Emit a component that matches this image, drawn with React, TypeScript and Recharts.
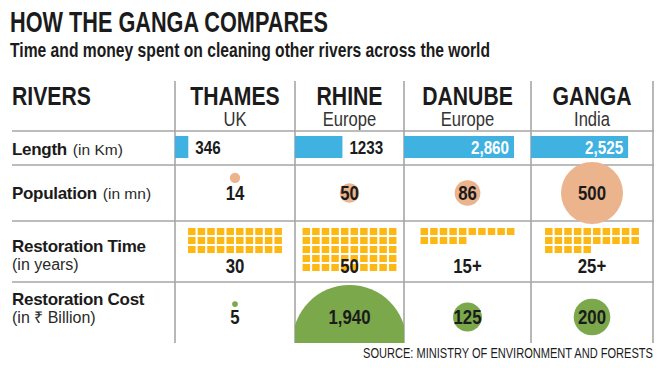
import { Fragment } from "react"
import { BarChart, Bar, ScatterChart, Scatter, XAxis, YAxis, ZAxis } from "recharts"

const rivers = ["THAMES", "RHINE", "DANUBE", "GANGA"]
const regions = ["UK", "Europe", "Europe", "India"]
const lengthKm = [346, 1233, 2860, 2525]
const lengthLabels = ["346", "1233", "2,860", "2,525"]
const populationMn = [14, 50, 86, 500]
const populationLabels = ["14", "50", "86", "500"]
const restorationYears = [30, 50, 15, 25]
const restorationLabels = ["30", "50", "15+", "25+"]
const restorationCostBn = [5, 1940, 125, 200]
const costLabels = ["5", "1,940", "125", "200"]

// layout
const colX = [175, 295, 404, 531, 653]
const rowLines = [131, 165, 221, 282]
const FONT = "'Liberation Sans', Arial, sans-serif"
const INK = "#1b1b1b"
const GRID = "#a6a6a6"
const BLUE = "#3fb2e2"
const PEACH = "#ebb48d"
const GREEN = "#7aa84b"
const AMBER = "#fdb813"

const cellW = (i: number) => colX[i + 1] - colX[i]
const colMid = (i: number) => (colX[i] + colX[i + 1]) / 2

// condensed text: regular sans squeezed horizontally
function NText({ x, y, size, bold = true, anchor = "start", fill = INK, squeeze = 0.8, central = false, children }: any) {
  return (
    <text
      transform={`translate(${x},${y}) scale(${squeeze},1)`}
      textAnchor={anchor}
      dominantBaseline={central ? "central" : undefined}
      fill={fill}
      fontFamily={FONT}
      fontWeight={bold ? 700 : 400}
      fontSize={size}
    >
      {children}
    </text>
  )
}

function LengthBar(props: any) {
  const { x, y, width, height, payload } = props
  const inside = width > 70
  return (
    <g>
      <rect x={x} y={y} width={width} height={height} fill={BLUE} />
      <NText
        x={inside ? x + width - 5 : x + width + 7}
        y={y + height / 2}
        anchor={inside ? "end" : "start"}
        central
        fill={inside ? "#fff" : INK}
        size={19}
      >
        {payload.label}
      </NText>
    </g>
  )
}

function LengthCell({ i }: { i: number }) {
  const data = [{ river: rivers[i], km: lengthKm[i], label: lengthLabels[i] }]
  return (
    <BarChart width={120} height={34} layout="vertical" data={data} margin={{ top: 0, right: 0, bottom: 2, left: 0 }}>
      <XAxis type="number" domain={[0, 3120]} hide />
      <YAxis type="category" dataKey="river" hide />
      <Bar dataKey="km" barSize={22} shape={LengthBar} isAnimationActive={false} />
    </BarChart>
  )
}

function makeBubble(color: string, rowTop: number, rowHalf: number) {
  return (props: any) => {
    const { cx, cy, width, payload } = props
    const r = width / 2
    let circleY = cy
    if (r < 6) circleY = cy - r - 10
    else if (r > rowHalf + 5) circleY = rowTop + 3 + r
    return (
      <g>
        <circle cx={cx} cy={circleY} r={r} fill={color} />
        <NText x={cx} y={cy} anchor="middle" central size={21}>
          {payload.label}
        </NText>
      </g>
    )
  }
}

const popBubble = makeBubble(PEACH, 10, 28)
const costBubble = makeBubble(GREEN, 0, 30.5)

function BubbleCell({ i, value, label, maxValue, maxRadius, height, margin, shape }: any) {
  const data = [{ river: rivers[i], row: "value", z: value, label }]
  return (
    <ScatterChart width={cellW(i)} height={height} margin={margin}>
      <XAxis type="category" dataKey="river" hide />
      <YAxis type="category" dataKey="row" hide />
      <ZAxis type="number" dataKey="z" domain={[0, maxValue]} range={[0, Math.PI * maxRadius * maxRadius]} />
      <Scatter data={data} shape={shape} isAnimationActive={false} />
    </ScatterChart>
  )
}

function Square(props: any) {
  const { cx, cy } = props
  return <rect x={cx - 3.75} y={cy - 3.5} width={7.5} height={7} fill={AMBER} />
}

function WaffleCell({ i }: { i: number }) {
  const cells = Array.from({ length: restorationYears[i] }, (_, k) => ({ col: k % 10, row: Math.floor(k / 10) }))
  const side = (cellW(i) - 96) / 2
  return (
    <ScatterChart width={cellW(i)} height={61} margin={{ top: 6, right: side, bottom: 10, left: side }}>
      <XAxis type="number" dataKey="col" domain={[-0.5, 9.5]} hide />
      <YAxis type="number" dataKey="row" domain={[-0.5, 4.5]} reversed hide />
      <Scatter data={cells} shape={Square} isAnimationActive={false} />
    </ScatterChart>
  )
}

function RowLabel({ y, main, note, noteY }: { y: number; main: string; note: string; noteY?: number }) {
  if (noteY) {
    return (
      <g fill={INK}>
        <text x={12} y={y} fontFamily={FONT} fontWeight={700} fontSize={17} letterSpacing={-0.3}>{main}</text>
        <text x={12} y={noteY} fontFamily={FONT} fontSize={16} fill="#2a2a2a">{note}</text>
      </g>
    )
  }
  return (
    <text x={12} y={y} fill={INK}>
      <tspan fontFamily={FONT} fontWeight={700} fontSize={17} letterSpacing={-0.3}>{main}</tspan>
      <tspan dx={6} fontFamily={FONT} fontSize={15.5} fill="#2a2a2a">{note}</tspan>
    </text>
  )
}

export default function App() {
  return (
    <div style={{ position: "absolute", left: 0, top: 0, width: 665, height: 368, background: "#fff", overflow: "hidden" }}>
      <svg width={665} height={368} style={{ position: "absolute", left: 0, top: 0 }}>
        <text x={10} y={32} fill={INK} fontFamily={FONT} fontWeight={700} fontSize={30} textLength={318} lengthAdjust="spacingAndGlyphs">
          HOW THE GANGA COMPARES
        </text>
        <text x={10} y={57} fill={INK} fontFamily={FONT} fontWeight={700} fontSize={21} textLength={480} lengthAdjust="spacingAndGlyphs">
          Time and money spent on cleaning other rivers across the world
        </text>

        {rowLines.map((y) => (
          <line key={y} x1={12} x2={654} y1={y} y2={y} stroke={GRID} strokeWidth={1.6} />
        ))}
        {colX.map((x) => (
          <line key={x} x1={x} x2={x} y1={81} y2={343} stroke={GRID} strokeWidth={1.6} />
        ))}

        <NText x={12} y={105} size={26.5}>RIVERS</NText>
        {rivers.map((r, i) => (
          <Fragment key={r}>
            <NText x={colMid(i)} y={105} anchor="middle" size={26.5}>{r}</NText>
            <NText x={colMid(i)} y={126} anchor="middle" size={19.5} bold={false} fill="#333" squeeze={0.85}>
              {regions[i]}
            </NText>
          </Fragment>
        ))}

        <RowLabel y={155} main="Length" note="(in Km)" />
        <RowLabel y={199} main="Population" note="(in mn)" />
        <RowLabel y={251.5} main="Restoration Time" note="(in years)" noteY={269.5} />
        <RowLabel y={304.5} main="Restoration Cost" note="(in ₹ Billion)" noteY={322.5} />

        <text x={653} y={358} textAnchor="end" fill={INK} fontFamily={FONT} fontSize={14} textLength={290} lengthAdjust="spacingAndGlyphs">
          SOURCE: MINISTRY OF ENVIRONMENT AND FORESTS
        </text>
      </svg>

      {rivers.map((r, i) => (
        <Fragment key={r}>
          <div style={{ position: "absolute", left: colX[i], top: 131 }}>
            <LengthCell i={i} />
          </div>
          <div style={{ position: "absolute", left: colX[i], top: 155 }}>
            <BubbleCell
              i={i}
              value={populationMn[i]}
              label={populationLabels[i]}
              maxValue={500}
              maxRadius={31}
              height={76}
              margin={{ top: 0, right: 0, bottom: 0, left: 0 }}
              shape={popBubble}
            />
          </div>
          <div style={{ position: "absolute", left: colX[i], top: 221 }}>
            <WaffleCell i={i} />
          </div>
          <div style={{ position: "absolute", left: colX[i], top: 282 }}>
            <BubbleCell
              i={i}
              value={restorationCostBn[i]}
              label={costLabels[i]}
              maxValue={1940}
              maxRadius={57}
              height={61}
              margin={{ top: 9, right: 0, bottom: 0, left: 0 }}
              shape={costBubble}
            />
          </div>
        </Fragment>
      ))}

      <svg width={665} height={368} style={{ position: "absolute", left: 0, top: 0, pointerEvents: "none" }}>
        {rivers.map((r, i) => (
          <NText key={r} x={colMid(i)} y={266} anchor="middle" central size={21}>
            {restorationLabels[i]}
          </NText>
        ))}
      </svg>
    </div>
  )
}
